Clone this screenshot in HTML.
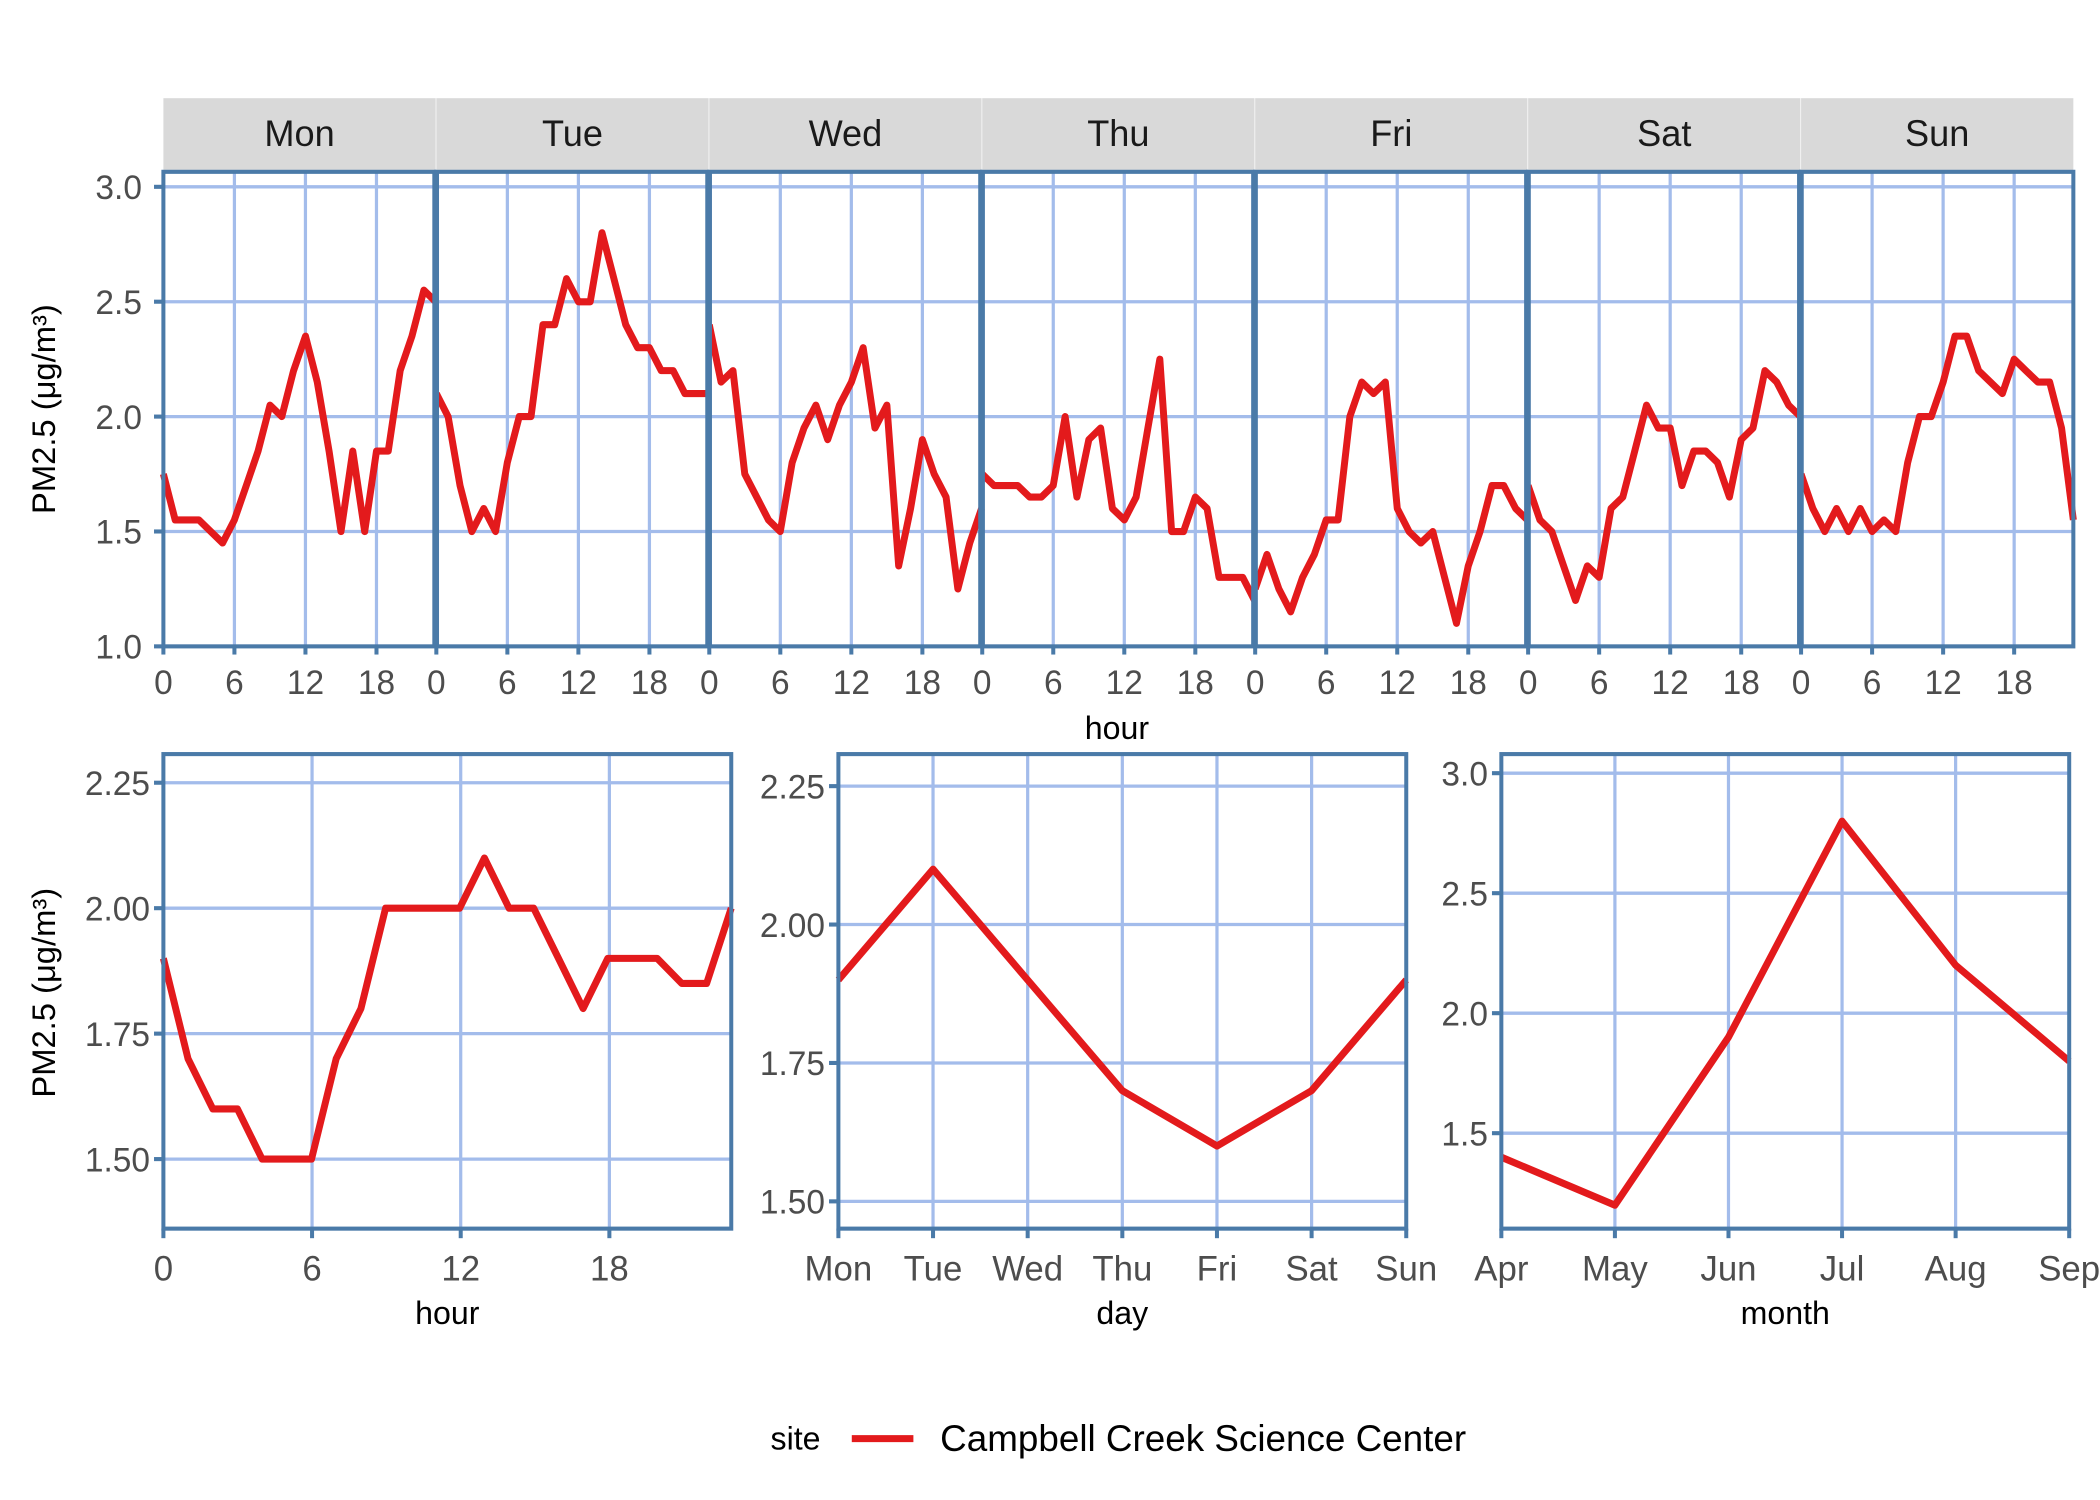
<!DOCTYPE html>
<html><head><meta charset="utf-8"><style>
html,body{margin:0;padding:0;background:#fff;}
svg{display:block;}
text{font-family:"Liberation Sans",Arial,sans-serif;}
</style></head><body>
<svg id="s" width="2100" height="1500" viewBox="0 0 1568 1100" preserveAspectRatio="none" xmlns="http://www.w3.org/2000/svg"></svg>
<script>
const s=document.getElementById('s');let h='';
const GRID='#a3bceb',BOR='#4a7aa8',TXT='#4d4d4d',RED='#e31a1c';
function line(x1,y1,x2,y2,c,w){h+=`<line x1="${x1}" y1="${y1}" x2="${x2}" y2="${y2}" stroke="${c}" stroke-width="${w}"/>`;}
function txt(x,y,t,a,sz,c,extra){h+=`<text x="${x}" y="${y}" text-anchor="${a}" font-size="${sz}" fill="${c}" ${extra||''}>${t}</text>`;}
function path(pts){h+=`<polyline points="${pts.map(p=>p[0].toFixed(1)+','+p[1].toFixed(1)).join(' ')}" fill="none" stroke="${RED}" stroke-width="5.2" stroke-linejoin="round"/>`;}
const days=['Mon','Tue','Wed','Thu','Fri','Sat','Sun'];
const data=[
[1.75,1.55,1.55,1.55,1.5,1.45,1.55,1.7,1.85,2.05,2.0,2.2,2.35,2.15,1.85,1.5,1.85,1.5,1.85,1.85,2.2,2.35,2.55,2.5],
[2.1,2.0,1.7,1.5,1.6,1.5,1.8,2.0,2.0,2.4,2.4,2.6,2.5,2.5,2.8,2.6,2.4,2.3,2.3,2.2,2.2,2.1,2.1,2.1],
[2.4,2.15,2.2,1.75,1.65,1.55,1.5,1.8,1.95,2.05,1.9,2.05,2.15,2.3,1.95,2.05,1.35,1.6,1.9,1.75,1.65,1.25,1.45,1.6],
[1.75,1.7,1.7,1.7,1.65,1.65,1.7,2.0,1.65,1.9,1.95,1.6,1.55,1.65,1.95,2.25,1.5,1.5,1.65,1.6,1.3,1.3,1.3,1.2],
[1.25,1.4,1.25,1.15,1.3,1.4,1.55,1.55,2.0,2.15,2.1,2.15,1.6,1.5,1.45,1.5,1.3,1.1,1.35,1.5,1.7,1.7,1.6,1.55],
[1.7,1.55,1.5,1.35,1.2,1.35,1.3,1.6,1.65,1.85,2.05,1.95,1.95,1.7,1.85,1.85,1.8,1.65,1.9,1.95,2.2,2.15,2.05,2.0],
[1.75,1.6,1.5,1.6,1.5,1.6,1.5,1.55,1.5,1.8,2.0,2.0,2.15,2.35,2.35,2.2,2.15,2.1,2.25,2.2,2.15,2.15,1.95,1.55]];
const PT=126,PB=474,PW=203.3;
const ty=v=>474-(v-1)*168.5;
for(let i=0;i<7;i++){
 const x0=122+i*203.8,u=PW/23;
 h+=`<rect x="${x0}" y="72" width="${PW}" height="53" fill="#d9d9d9"/>`;
 txt(x0+PW/2,107,days[i],'middle',27,'#1a1a1a');
 [1,1.5,2,2.5,3].forEach(v=>line(x0,ty(v),x0+PW,ty(v),GRID,2.4));
 [0,6,12,18].forEach(k=>{const x=x0+k*u;line(x,PT,x,PB,GRID,2.4);line(x,PB,x,PB+6,BOR,3);txt(x,509,k,'middle',25,TXT);});
 path(data[i].map((v,k)=>[x0+k*u,ty(v)]));
 h+=`<rect x="${x0}" y="${PT}" width="${PW}" height="${PB-PT}" fill="none" stroke="${BOR}" stroke-width="3"/>`;
}
for(let i=1;i<7;i++){const x=122+i*203.8-0.5;line(x,PT,x,PB,BOR,5);}
[1,1.5,2,2.5,3].forEach(v=>{line(115,ty(v),122,ty(v),BOR,3);txt(106,ty(v)+9,v.toFixed(1),'end',25,TXT);});
txt(834,542,'hour','middle',24,'#000');
txt(0,0,'PM2.5 (μg/m³)','middle',24,'#000',`transform="translate(41,300) rotate(-90)"`);
const BT=553,BB=901;
function panel(x0,x1,yt,ylab,xt,xlab,ypos,pts,xtitle){
 yt.forEach((v,j)=>line(x0,ypos[j],x1,ypos[j],GRID,2.4));
 xt.forEach(x=>line(x,BT,x,BB,GRID,2.4));
 path(pts);
 h+=`<rect x="${x0}" y="${BT}" width="${x1-x0}" height="${BB-BT}" fill="none" stroke="${BOR}" stroke-width="3"/>`;
 yt.forEach((v,j)=>{line(x0-7,ypos[j],x0,ypos[j],BOR,3);txt(x0-10,ypos[j]+9,ylab[j],'end',25,TXT);});
 xt.forEach((x,j)=>{line(x,BB,x,BB+7,BOR,3);txt(x,939,xlab[j],'middle',26,TXT);});
 txt((x0+x1)/2,971,xtitle,'middle',24,'#000');
}
const hv=[1.9,1.7,1.6,1.6,1.5,1.5,1.5,1.7,1.8,2.0,2.0,2.0,2.0,2.1,2.0,2.0,1.9,1.8,1.9,1.9,1.9,1.85,1.85,2.0];
const y1=v=>666-(v-2)*368;
panel(122,546,[2.25,2,1.75,1.5],['2.25','2.00','1.75','1.50'],[122,233,344,455],['0','6','12','18'],[2.25,2,1.75,1.5].map(y1),hv.map((v,k)=>[122+k*424/23,y1(v)]),'hour');
const y2=v=>678-(v-2)*406;
const dx=[0,1,2,3,4,5,6].map(k=>626+k*424/6);
panel(626,1050,[2.25,2,1.75,1.5],['2.25','2.00','1.75','1.50'],dx,days,[2.25,2,1.75,1.5].map(y2),[1.9,2.1,1.9,1.7,1.6,1.7,1.9].map((v,k)=>[dx[k],y2(v)]),'day');
const y3=v=>743-(v-2)*176;
const mx=[0,1,2,3,4,5].map(k=>1121+k*424/5);
panel(1121,1545,[3,2.5,2,1.5],['3.0','2.5','2.0','1.5'],mx,['Apr','May','Jun','Jul','Aug','Sep'],[3,2.5,2,1.5].map(y3),[1.4,1.2,1.9,2.8,2.2,1.8].map((v,k)=>[mx[k],y3(v)]),'month');
txt(0,0,'PM2.5 (μg/m³)','middle',24,'#000',`transform="translate(41,728) rotate(-90)"`);
txt(594,1063,'site','middle',24,'#000');
line(636,1055,682,1055,RED,5.2);
txt(702,1064,'Campbell Creek Science Center','start',27.5,'#000');
s.innerHTML=h;
</script>
</body></html>
